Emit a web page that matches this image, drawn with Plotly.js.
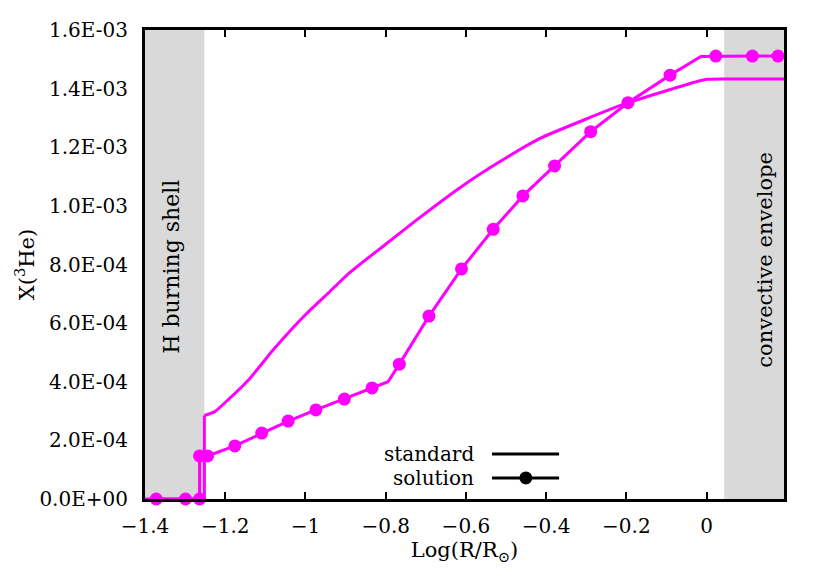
<!DOCTYPE html>
<html>
<head>
<meta charset="utf-8">
<script src="https://cdn.plot.ly/plotly-3.0.1.min.js"></script>
<style>
  html, body { margin: 0; padding: 0; background: #fff; }
  #chart { width: 830px; height: 581px; }
</style>
</head>
<body>
<div id="chart"></div>
<script>
// standard model profile
var stdX = [-1.4, -1.252, -1.252, -1.226, -1.193, -1.142, -1.077, -1.002, -0.939, -0.889,
            -0.804, -0.721, -0.614, -0.514, -0.414, -0.306, -0.196, -0.081, -0.03, 0.002, 0.04, 0.195]
var stdY = [0, 0, 2.85e-4, 2.98e-4, 3.38e-4, 4.06e-4, 5.14e-4, 6.26e-4, 7.08e-4, 7.73e-4,
            8.65e-4, 9.54e-4, 1.063e-3, 1.152e-3, 1.231e-3, 1.293e-3, 1.352e-3, 1.401e-3, 1.422e-3, 1.432e-3, 1.433e-3, 1.433e-3]

// solution profile (line) and the points marked on it
var solLineX = [-1.372, -1.299, -1.264, -1.264, -1.244, -1.176, -1.109, -1.043, -0.974, -0.903,
                -0.834, -0.794, -0.766, -0.692, -0.611, -0.532, -0.458, -0.379, -0.289, -0.196,
                -0.091, -0.014, 0.023, 0.114, 0.178, 0.195]
var solLineY = [0, 0, 0, 1.47e-4, 1.47e-4, 1.81e-4, 2.25e-4, 2.66e-4, 3.04e-4, 3.41e-4,
                3.79e-4, 4.0e-4, 4.6e-4, 6.24e-4, 7.85e-4, 9.2e-4, 1.034e-3, 1.136e-3, 1.253e-3, 1.352e-3,
                1.446e-3, 1.51e-3, 1.511e-3, 1.511e-3, 1.511e-3, 1.511e-3]
var solMarkX = [-1.372, -1.299, -1.264, -1.264, -1.244, -1.176, -1.109, -1.043, -0.974, -0.903,
                -0.834, -0.766, -0.692, -0.611, -0.532, -0.458, -0.379, -0.289, -0.196, -0.091,
                0.023, 0.114, 0.178]
var solMarkY = [0, 0, 0, 1.47e-4, 1.47e-4, 1.81e-4, 2.25e-4, 2.66e-4, 3.04e-4, 3.41e-4,
                3.79e-4, 4.6e-4, 6.24e-4, 7.85e-4, 9.2e-4, 1.034e-3, 1.136e-3, 1.253e-3, 1.352e-3, 1.446e-3,
                1.511e-3, 1.511e-3, 1.511e-3]

// shaded zones
var shellZone = [-1.4, -1.252]
var envelopeZone = [0.044, 0.2]

// ticks
var xTickVals = [-1.4, -1.2, -1.0, -0.8, -0.6, -0.4, -0.2, 0]
var xTickText = ['\u22121.4', '\u22121.2', '\u22121', '\u22120.8', '\u22120.6', '\u22120.4', '\u22120.2', '0']
var yTickVals = [0, 2e-4, 4e-4, 6e-4, 8e-4, 1.0e-3, 1.2e-3, 1.4e-3, 1.6e-3]
var yTickText = ['0.0E+00', '2.0E-04', '4.0E-04', '6.0E-04', '8.0E-04', '1.0E-03', '1.2E-03', '1.4E-03', '1.6E-03']

var magenta = '#ff00ff'
var font = 'DejaVu Serif, serif'

var data = [
  {
    x: stdX.slice(0, 3), y: stdY.slice(0, 3), mode: 'lines', name: 'standard step',
    line: {color: magenta, width: 3}, showlegend: false, cliponaxis: false
  },
  {
    x: stdX.slice(2), y: stdY.slice(2), mode: 'lines', name: 'standard',
    line: {color: magenta, width: 3, shape: 'spline', smoothing: 0.5}, showlegend: false, cliponaxis: false
  },
  {
    x: solLineX, y: solLineY, mode: 'lines', name: 'solution',
    line: {color: magenta, width: 3}, showlegend: false, cliponaxis: false
  },
  {
    x: solMarkX, y: solMarkY, mode: 'markers', name: 'solution points',
    marker: {color: magenta, size: 13}, showlegend: false, cliponaxis: false
  }
]

var layout = {
  width: 830,
  height: 581,
  margin: {l: 145, r: 46, t: 30, b: 82},
  paper_bgcolor: '#ffffff',
  plot_bgcolor: '#ffffff',
  font: {family: font, size: 20, color: '#000'},
  showlegend: false,
  xaxis: {
    range: [-1.4, 0.193],
    tickvals: xTickVals,
    ticktext: xTickText,
    ticks: 'inside',
    ticklen: 7,
    tickwidth: 2,
    tickcolor: '#000',
    showline: true,
    linewidth: 3,
    linecolor: '#000',
    mirror: 'ticks',
    showgrid: false,
    zeroline: false,
    ticklabelstandoff: 7,
    title: {text: 'Log(R/R<sub>\u2299</sub>)', standoff: 6, font: {family: font, size: 21}}
  },
  yaxis: {
    range: [0, 1.6e-3],
    tickvals: yTickVals,
    ticktext: yTickText,
    ticks: '',
    showline: true,
    linewidth: 3,
    linecolor: '#000',
    mirror: true,
    showgrid: false,
    zeroline: false,
    ticklabelstandoff: 10,
    title: {text: 'X(<sup>3</sup>He)', standoff: 0, font: {family: font, size: 21}}
  },
  shapes: [
    {type: 'rect', xref: 'x', yref: 'paper', x0: shellZone[0], x1: shellZone[1], y0: 0, y1: 1,
     fillcolor: '#d9d9d9', line: {width: 0}, layer: 'below'},
    {type: 'rect', xref: 'x', yref: 'paper', x0: envelopeZone[0], x1: envelopeZone[1], y0: 0, y1: 1,
     fillcolor: '#d9d9d9', line: {width: 0}, layer: 'below'},
    // legend samples
    {type: 'line', xref: 'paper', yref: 'paper', x0: 0.543, x1: 0.648, y0: 0.096, y1: 0.096,
     line: {color: '#000', width: 3}},
    {type: 'line', xref: 'paper', yref: 'paper', x0: 0.543, x1: 0.648, y0: 0.045, y1: 0.045,
     line: {color: '#000', width: 3}},
    {type: 'circle', xref: 'paper', yref: 'paper', xsizemode: 'pixel', ysizemode: 'pixel',
     xanchor: 0.596, yanchor: 0.045, x0: -6.5, x1: 6.5, y0: -6.5, y1: 6.5,
     fillcolor: '#000', line: {width: 0}}
  ],
  annotations: [
    {text: 'H burning shell', xref: 'paper', yref: 'paper', x: 0.042, y: 0.495,
     xanchor: 'center', yanchor: 'middle',
     textangle: -90, showarrow: false, font: {family: font, size: 22}},
    {text: 'convective envelope', xref: 'paper', yref: 'paper', x: 0.97, y: 0.51,
     xanchor: 'center', yanchor: 'middle',
     textangle: -90, showarrow: false, font: {family: font, size: 21}},
    {text: 'standard', xref: 'paper', yref: 'paper', x: 0.518, y: 0.096,
     xanchor: 'right', yanchor: 'middle', showarrow: false, font: {family: font, size: 20}},
    {text: 'solution', xref: 'paper', yref: 'paper', x: 0.518, y: 0.045,
     xanchor: 'right', yanchor: 'middle', showarrow: false, font: {family: font, size: 20}}
  ]
}

Plotly.newPlot('chart', data, layout, {staticPlot: true})
</script>
</body>
</html>
